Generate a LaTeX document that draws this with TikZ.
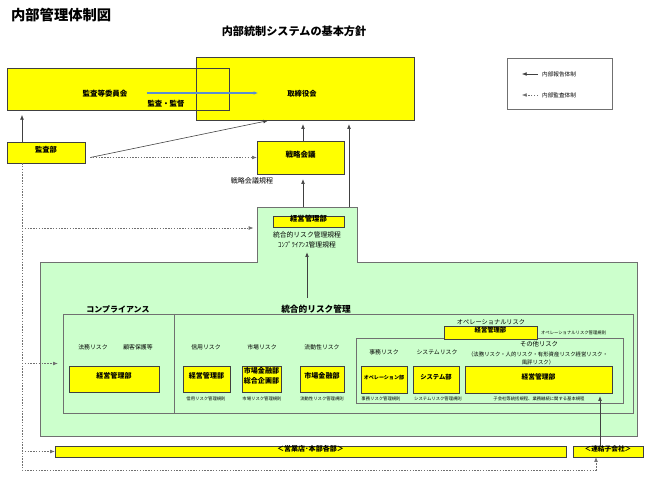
\documentclass[tikz,border=0pt]{standalone}
\usepackage{fontspec}
\setmainfont{Noto Sans CJK JP}
\usetikzlibrary{arrows.meta,calc,fit}
\definecolor{boxline}{HTML}{404040}
\definecolor{frameline}{HTML}{707070}
\definecolor{riskgreen}{HTML}{CCFFCC}
\definecolor{boardyellow}{HTML}{FFFF00}
\definecolor{lineblue}{HTML}{5B8FD0}
\newcommand{\fsz}[1]{\fontsize{#1}{#1}\selectfont}

\begin{document}
\begin{tikzpicture}[x=0.03cm, y=-0.03cm,
  ybox/.style={draw=boxline, fill=boardyellow, inner sep=0pt, font=\bfseries\fsz{6}},
  yfill/.style={fill=boardyellow, inner sep=0pt},
  fitbox/.style={inner sep=0pt},
  rep/.style={-{Latex[length=4pt,width=3.2pt]}, draw=boxline, line width=0.5pt},
  aud/.style={rep, draw=frameline, dash pattern=on 1.2pt off 1.2pt},
  riskname/.style={font=\fsz{5}},
  regl/.style={font=\fsz{3.7}},
  heading/.style={font=\bfseries\fsz{6.8}}]
  \useasboundingbox (0,0) rectangle (649,480);
  % Titles
  \node[anchor=west, font=\bfseries\fsz{12.2}] (title) at (7,15) {内部管理体制図};
  \node[font=\bfseries\fsz{9.5}] (policy) at (294,31) {内部統制システムの基本方針};
  % Audit committee and board
  \node[yfill, fit={(7,68) (229,110)}] (iinkai) {};
  \node[yfill, fit={(196,57) (414,120)}] (torishimari) {};
  \draw[boxline] (iinkai.north west) rectangle (iinkai.south east);
  \draw[boxline] (torishimari.north west) rectangle (torishimari.south east);
  \node[font=\bfseries\fsz{6.4}] (iinkai-t) at (105,94) {監査等委員会};
  \node[font=\bfseries\fsz{6.3}] (kantoku) at (166,104) {監査・監督};
  \node[font=\bfseries\fsz{6.2}] (torishimari-t) at (302,94) {取締役会};
  \draw[-{Latex[length=4pt]}, lineblue, line width=1.1pt]
        ($(iinkai-t.east)+(15,-1)$) -- ($(torishimari-t.west)+(-25,-1)$);
  % Legend
  \node[draw=frameline, fill=white, fitbox, fit={(507,58) (612,109)}] (legend) {};
  \node[anchor=west, font=\fsz{4.8}] (lg-rep) at (538,74) {内部報告体制};
  \node[anchor=west, font=\fsz{4.8}] (lg-aud) at (538,95) {内部監査体制};
  \draw[rep] (lg-rep.west) -- ++(-16,0);
  \draw[aud] (lg-aud.west) -- ++(-16,0);
  % Audit department and strategy meeting
  \node[ybox, font=\bfseries\fsz{6.2}, fit={(7,142) (85,163)}] (kansabu) {監査部};
  \node[ybox, font=\bfseries\fsz{6.4}, fit={(257,141) (344,174)}] (senryaku) {戦略会議};
  \node[font=\fsz{6}] (senryaku-k) at (252,181) {戦略会議規程};
  \draw[rep, shorten >=1.4mm] (22,0 |- kansabu.north) -- (22,0 |- iinkai.south);
  \draw[rep, shorten >=0.6mm] ($(kansabu.east)+(5,5)$) -- (270,0 |- torishimari.south);
  \draw[aud, shorten <=1.5mm] (kansabu.east |- senryaku.west) -- (senryaku.west);
  \draw[rep, shorten >=1.2mm] (303,0 |- senryaku.north) -- (303,0 |- torishimari.south);
  % Risk management group
  \draw[frameline, fill=riskgreen] (40,262) -| (257,207) -| (357,262) -| (637,436) -- (40,436) -- cycle;
  \node[fitbox, fit={(257,207) (357,262)}] (keiei) {};
  \node[fitbox, fit={(40,262) (637,436)}] (group) {};
  \node[ybox, font=\bfseries\fsz{6.3}, fit={(273,216) (344,227)}] (keiei-b) {経営管理部};
  \node[font=\fsz{5.8}] (togo-k) at (307,235) {統合的リスク管理規程};
  \node[font=\fsz{5.8}] (comp-k) at (307,245) {ｺﾝﾌﾟﾗｲｱﾝｽ管理規程};
  \draw[rep, shorten >=1.5mm] (303,0 |- keiei.north) -- (303,0 |- senryaku.south);
  \draw[rep, shorten >=1.2mm] (349,0 |- keiei.north) -- (349,0 |- torishimari.south);
  \coordinate (risk-top) at (307,298);
  \draw[rep] (risk-top) -- (risk-top |- comp-k.south);
  % Compliance and integrated risk frame
  \node[draw=frameline, fitbox, fit={(63,314) (633,413)}] (frame) {};
  \draw[frameline] (174,0 |- frame.north) -- (174,0 |- frame.south);
  \node[heading] (comp-h) at (118,309) {コンプライアンス};
  \node[heading, font=\bfseries\fsz{7.4}] (risk-h) at (316,309) {統合的リスク管理};
  % Compliance
  \node[riskname] (houmu) at (93,347) {法務リスク};
  \node[riskname] (kokyaku) at (138,347) {顧客保護等};
  \node[ybox, fit={(69,366) (159,392)}] (comp-b) {経営管理部};
  % Credit, market, liquidity
  \node[riskname] (shinyo) at (206,347) {信用リスク};
  \node[riskname] (shijo) at (262,347) {市場リスク};
  \node[riskname] (ryudo) at (322,347) {流動性リスク};
  \node[ybox, fit={(183,366) (230,392)}] (shinyo-b) {経営管理部};
  \node[ybox, align=center, font=\bfseries\fontsize{6}{8.5}\selectfont, fit={(242,366) (281,392)}] (shijo-b) {市場金融部\\総合企画部};
  \node[ybox, fit={(300,366) (344,392)}] (ryudo-b) {市場金融部};
  \node[regl] (shinyo-k) at (206,399) {信用リスク管理規則};
  \node[regl] (shijo-k) at (262,399) {市場リスク管理規則};
  \node[regl] (ryudo-k) at (322,399) {流動性リスク管理規則};
  % Operational risk
  \node[font=\fsz{5.3}] (op-h) at (491,322) {オペレーショナルリスク};
  \node[draw=frameline, fitbox, fit={(356,338) (623,403)}] (opframe) {};
  \node[ybox, font=\bfseries\fsz{5.4}, fit={(444,326) (537,339)}] (op-b) {経営管理部};
  \node[regl, anchor=west] (op-k) at (537,333) {オペレーショナルリスク管理規則};
  \node[riskname] (jimu) at (384,352) {事務リスク};
  \node[riskname] (system) at (437,352) {システムリスク};
  \node[font=\fsz{5.4}] (sonota) at (539,344) {その他リスク};
  \node[font=\fontsize{4.6}{7.2}\selectfont, align=center] (sonota-d) at (538,358.5)
        {（法務リスク・人的リスク・有形資産リスク経営リスク・\\風評リスク）};
  \node[ybox, font=\bfseries\fsz{4.3}, fit={(361,366) (407,393)}] (jimu-b) {オペレーション部};
  \node[ybox, font=\bfseries\fsz{5.4}, fit={(413,366) (459,393)}] (system-b) {システム部};
  \node[ybox, font=\bfseries\fsz{5.8}, fit={(465,366) (612,393)}] (sonota-b) {経営管理部};
  \node[regl] (jimu-k) at (381,399) {事務リスク管理規則};
  \node[regl] (system-k) at (438,399) {システムリスク管理規則};
  \node[regl] (sonota-k) at (539,399) {子会社等統括規程、業務継続に関する基本規程};
  % Branches and subsidiaries
  \node[ybox, fit={(55,446) (566,457)}] (eigyo) {＜営業店･本部各部＞};
  \node[ybox, font=\bfseries\fsz{5.7}, fit={(573,446) (643,457)}] (renketsu) {＜連結子会社＞};
  \draw[rep, shorten >=0.9mm] (600,0 |- renketsu.north) -- (600,0 |- sonota-b.south);
  % Internal audit lines
  \coordinate (audit-end) at (22,470);
  \draw[frameline, dash pattern=on 1.2pt off 1.2pt] (22,0 |- kansabu.south) -- (audit-end) -| (596,460);
  \draw[aud] (audit-end |- 0,228) -- ([xshift=-1mm]keiei.west |- 0,228);
  \draw[aud, shorten >=1.5mm] (audit-end |- frame.west) -- (frame.west);
  \draw[aud] (audit-end |- eigyo.west) -- (eigyo.west);
  \draw[aud] (596,470) -- (596,0 |- renketsu.south);
\end{tikzpicture}
\end{document}
